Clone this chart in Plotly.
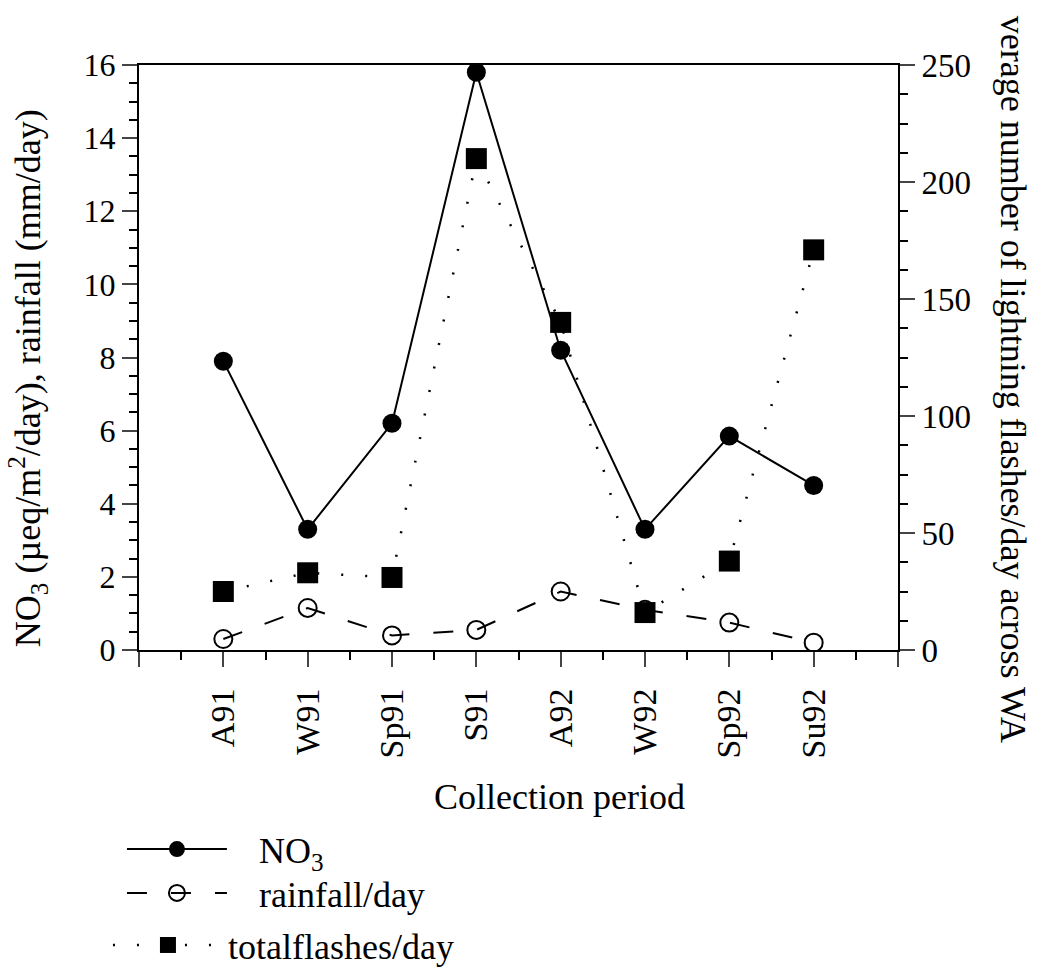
import plotly.graph_objects as go

periods = ["A91", "W91", "Sp91", "S91", "A92", "W92", "Sp92", "Su92"]
no3 = [7.9, 3.3, 6.2, 15.8, 8.2, 3.3, 5.85, 4.5]
rainfall = [0.3, 1.15, 0.4, 0.55, 1.6, 1.1, 0.75, 0.2]
flashes = [25, 33, 31, 210, 140, 16, 38, 171]

xpos = list(range(len(periods)))
FONT = "Liberation Serif"
NB = "\u00a0"

fig = go.Figure()
fig.add_trace(go.Scatter(
    x=xpos, y=no3, name=NB * 3 + "NO<sub>3</sub>", mode="lines+markers", legend="legend",
    line=dict(color="black", width=2),
    marker=dict(symbol="circle", size=19, color="black"),
))
fig.add_trace(go.Scatter(
    x=xpos, y=rainfall, name=NB * 3 + "rainfall/day", mode="lines+markers", legend="legend2",
    line=dict(color="black", width=2, dash="20px,24px"),
    marker=dict(symbol="circle-open", size=18, color="black", line=dict(width=2)),
))
fig.add_trace(go.Scatter(
    x=xpos, y=flashes, name="totalflashes/day", mode="lines+markers", yaxis="y2", legend="legend3",
    line=dict(color="black", width=2.5, dash="2px,22px"),
    marker=dict(symbol="square", size=21, color="black"),
))

leg_common = dict(xref="container", yref="container", xanchor="left", yanchor="middle",
                  bgcolor="rgba(0,0,0,0)", font=dict(family=FONT, size=36, color="black"))

fig.update_layout(
    width=1037, height=970,
    margin=dict(l=139, r=139, t=65, b=320, autoexpand=False),
    paper_bgcolor="white", plot_bgcolor="white",
    font=dict(family=FONT, size=32, color="black"),
    showlegend=True,
    legend=dict(x=0.1176, y=0.1246, itemwidth=100, **leg_common),
    legend2=dict(x=0.1176, y=0.0794, itemwidth=100, **leg_common),
    legend3=dict(x=0.1041, y=0.0257, itemwidth=110, **leg_common),
    xaxis=dict(
        range=[-1, 8], tickmode="array",
        tickvals=[-1] + xpos + [8], ticktext=[""] + periods + [""],
        tickangle=-90, ticks="outside", ticklen=15, tickwidth=2,
        ticklabelstandoff=8,
        showline=True, linecolor="black", linewidth=2, mirror=True,
        showgrid=False, zeroline=False, automargin=False,
        minor=dict(tickmode="linear", tick0=-0.5, dtick=1, ticks="outside", ticklen=8, tickwidth=2, tickcolor="black"),
        tickfont=dict(size=34),
    ),
    yaxis=dict(
        range=[0, 16], dtick=2, ticks="outside", ticklen=15, tickwidth=2,
        showline=True, linecolor="black", linewidth=2,
        showgrid=False, zeroline=False, automargin=False,
        minor=dict(dtick=0.5, ticks="outside", ticklen=8, tickwidth=2, tickcolor="black"),
        tickfont=dict(size=32),
    ),
    yaxis2=dict(
        range=[0, 250], dtick=50, overlaying="y", side="right",
        ticks="outside", ticklen=15, tickwidth=2,
        showline=True, linecolor="black", linewidth=2,
        showgrid=False, zeroline=False, automargin=False,
        minor=dict(dtick=12.5, ticks="outside", ticklen=8, tickwidth=2, tickcolor="black"),
        tickfont=dict(size=33),
    ),
    annotations=[
        dict(text="Collection period", xref="paper", yref="paper", x=0.386, y=-0.251,
             showarrow=False, font=dict(size=36), xanchor="left", yanchor="middle"),
        dict(text="NO<sub>3</sub> (\u00b5eq/m<sup>2</sup>/day), rainfall (mm/day)",
             xref="paper", yref="paper", x=-0.146, y=0.465, textangle=-90,
             showarrow=False, font=dict(size=36), xanchor="center", yanchor="middle"),
        dict(text="verage number of lightning flashes/day across WA",
             xref="paper", yref="paper", x=1.1515, y=0.462, textangle=90,
             showarrow=False, font=dict(size=36), xanchor="center", yanchor="middle"),
    ],
)

fig.write_html("out.html")
